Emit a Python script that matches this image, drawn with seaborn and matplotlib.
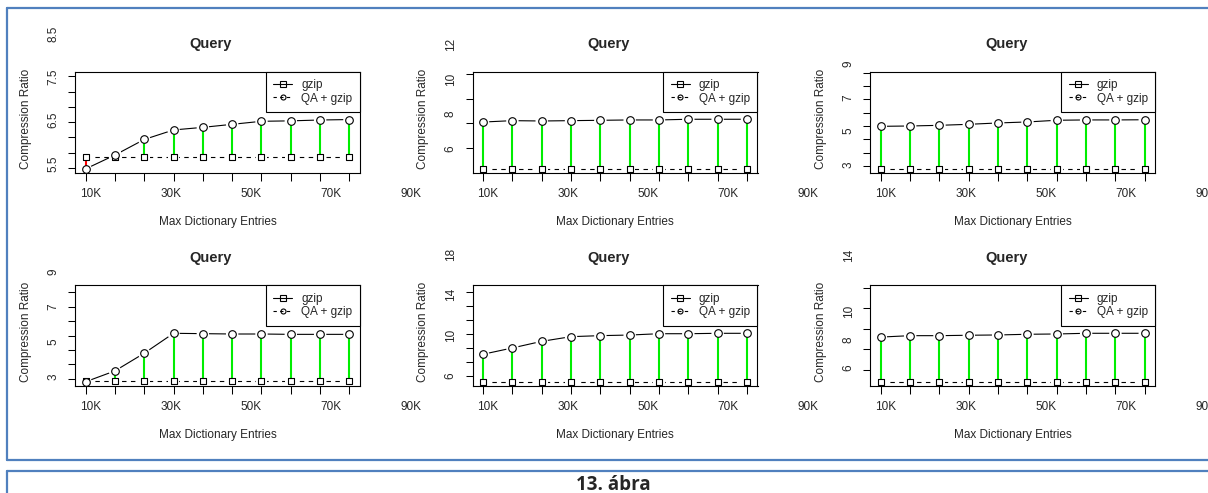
import matplotlib
matplotlib.use("Agg")
import numpy as np
import pandas as pd
import seaborn as sns
import matplotlib.pyplot as plt
from matplotlib.lines import Line2D

sns.set_style("ticks")
plt.rcParams['font.family'] = ['Liberation Sans', 'DejaVu Sans']

# ---------------- data ----------------
x_points = [1, 2, 3, 4, 5, 6, 7, 8, 9, 10]
x_tick_labels = ['10K', '30K', '50K', '70K', '90K']
x_label_pos = [1.17, 3.90, 6.63, 9.36, 12.09]

gzip_1 = [5.65, 5.65, 5.65, 5.65, 5.65, 5.65, 5.65, 5.65, 5.65, 5.65]
qa_1 = [5.37, 5.69, 6.05, 6.27, 6.33, 6.40, 6.47, 6.48, 6.50, 6.51]
gzip_2 = [4.83, 4.83, 4.83, 4.83, 4.83, 4.83, 4.83, 4.83, 4.83, 4.83]
qa_2 = [7.54, 7.62, 7.60, 7.62, 7.64, 7.66, 7.66, 7.70, 7.70, 7.70]
gzip_3 = [2.75, 2.75, 2.75, 2.75, 2.75, 2.75, 2.75, 2.75, 2.75, 2.75]
qa_3 = [5.28, 5.30, 5.34, 5.40, 5.48, 5.54, 5.64, 5.66, 5.66, 5.67]
gzip_4 = [2.75, 2.75, 2.75, 2.75, 2.75, 2.75, 2.75, 2.75, 2.75, 2.75]
qa_4 = [2.71, 3.33, 4.34, 5.48, 5.46, 5.44, 5.44, 5.42, 5.42, 5.42]
gzip_5 = [5.38, 5.38, 5.38, 5.38, 5.38, 5.38, 5.38, 5.38, 5.38, 5.38]
qa_5 = [8.14, 8.76, 9.41, 9.87, 9.97, 10.03, 10.16, 10.16, 10.20, 10.20]
gzip_6 = [4.93, 4.93, 4.93, 4.93, 4.93, 4.93, 4.93, 4.93, 4.93, 4.93]
qa_6 = [8.16, 8.26, 8.26, 8.29, 8.31, 8.36, 8.38, 8.43, 8.43, 8.43]

ylab_vals_1 = [5.5, 6.5, 7.5, 8.5]
ylab_txt_1 = ['5.5', '6.5', '7.5', '8.5']
ylab_vals_2 = [6, 8, 10, 12]
ylab_txt_2 = ['6', '8', '10', '12']
ylab_vals_3 = [3, 5, 7, 9]
ylab_txt_3 = ['3', '5', '7', '9']
ylab_vals_4 = [3, 5, 7, 9]
ylab_txt_4 = ['3', '5', '7', '9']
ylab_vals_5 = [6, 10, 14, 18]
ylab_txt_5 = ['6', '10', '14', '18']
ylab_vals_6 = [6, 8, 10, 14]
ylab_txt_6 = ['6', '8', '10', '14']

yticks_1 = [5.39, 5.745, 6.10, 6.454, 6.807, 7.154, 7.509]
yticks_2 = [6.061, 7.467, 8.885, 10.308]
yticks_3 = [2.942, 3.714, 4.51, 5.299, 6.089, 6.885, 7.675, 8.464]
yticks_4 = [2.869, 3.709, 4.526, 5.343, 6.183, 7.0, 7.857]
yticks_5 = [6.002, 7.349, 8.726, 10.132, 11.508, 12.914, 14.291]
yticks_6 = [5.807, 7.286, 8.736, 10.214, 11.686]

ylims = [(5.283, 7.615), (4.62, 10.441), (2.526, 8.524),
         (2.486, 8.24), (5.048, 14.95), (4.686, 11.879)]

title = "Query"
xlabel = "Max Dictionary Entries"
ylabel = "Compression Ratio"
legend_labels = ["gzip", "QA + gzip"]
caption = "13. ábra"

panels = [
    (gzip_1, qa_1, ylab_vals_1, ylab_txt_1, yticks_1),
    (gzip_2, qa_2, ylab_vals_2, ylab_txt_2, yticks_2),
    (gzip_3, qa_3, ylab_vals_3, ylab_txt_3, yticks_3),
    (gzip_4, qa_4, ylab_vals_4, ylab_txt_4, yticks_4),
    (gzip_5, qa_5, ylab_vals_5, ylab_txt_5, yticks_5),
    (gzip_6, qa_6, ylab_vals_6, ylab_txt_6, yticks_6),
]

# ---------------- layout ----------------
W, H = 1208, 493
fig = plt.figure(figsize=(W / 100, H / 100), dpi=100)
col_left = [75, 472.5, 870.3]
row_top = [71.7, 285]
row_h = [101, 100.7]
ax_w = 285
FS = 8.5

for i, (gz, qa, lv, lt, yt) in enumerate(panels):
    r, c = divmod(i, 3)
    lp, tp, hp = col_left[c], row_top[r], row_h[r]
    ax = fig.add_axes([lp / W, 1 - (tp + hp) / H, ax_w / W, hp / H])
    df = pd.DataFrame({"x": x_points, "gzip": gz, "qa": qa})

    sns.lineplot(data=df, x="x", y="qa", ax=ax, color="black", lw=0.8,
                 zorder=2, legend=False)
    sns.lineplot(data=df, x="x", y="gzip", ax=ax, color="black", lw=0.8,
                 zorder=2, legend=False)
    ax.lines[-1].set_linestyle((0, (4, 4)))

    # white halos for R type="b" gaps
    sns.scatterplot(data=df, x="x", y="gzip", ax=ax, marker="s", s=70,
                    color="white", edgecolor="none", linewidth=0, zorder=2.2,
                    legend=False)
    sns.scatterplot(data=df, x="x", y="qa", ax=ax, marker="o", s=80,
                    color="white", edgecolor="none", linewidth=0, zorder=2.2,
                    legend=False)

    seg_colors = ["#00EE00" if q > g else "#FF0000" for g, q in zip(gz, qa)]
    ax.vlines(df["x"], df["gzip"], df["qa"], colors=seg_colors, lw=1.5,
              zorder=2.3)

    sns.scatterplot(data=df, x="x", y="gzip", ax=ax, marker="s", s=24,
                    color="white", edgecolor="black", linewidth=0.8, zorder=3,
                    legend=False)
    sns.scatterplot(data=df, x="x", y="qa", ax=ax, marker="o", s=30,
                    color="white", edgecolor="black", linewidth=0.8, zorder=3.1,
                    legend=False)

    ax.set_xlim(0.64, 10.36)
    ax.set_ylim(*ylims[i])
    ax.set_xticks(x_points)
    ax.set_xticklabels([])
    ax.set_yticks(yt)
    ax.set_yticklabels([])
    ax.tick_params(axis="x", direction="out", length=6, width=0.75, colors="black")
    ax.tick_params(axis="y", direction="out", length=5, width=0.75, colors="black")
    ax.set_xlabel("")
    ax.set_ylabel("")
    for s in ax.spines.values():
        s.set_visible(True)
        s.set_color("black")
        s.set_linewidth(0.8)

    for v, t in zip(lv, lt):
        ax.text(-0.076, v, t, transform=ax.get_yaxis_transform(), rotation=90,
                ha="center", va="center", fontsize=FS, clip_on=False)
    for p, t in zip(x_label_pos, x_tick_labels):
        ax.text(p, -21.3 / hp, t, transform=ax.get_xaxis_transform(),
                ha="center", va="center", fontsize=FS, clip_on=False)

    ax.text(0.477, 1.27, title, transform=ax.transAxes, ha="center",
            va="center", fontsize=10.5, fontweight="bold", clip_on=False)
    ax.text(0.5, -0.489, xlabel, transform=ax.transAxes, ha="center",
            va="center", fontsize=FS, clip_on=False)
    ax.text(-0.172, 0.53, ylabel, transform=ax.transAxes, ha="center",
            va="center", rotation=90, fontsize=FS, clip_on=False)

    handles = [
        Line2D([], [], color="black", lw=0.8, ls="-", marker="s", ms=4.3,
               mfc="none", mec="black", mew=0.8),
        Line2D([], [], color="black", lw=0.8, ls=(0, (3, 3)), marker="o",
               ms=3.6, mfc="none", mec="black", mew=0.8),
    ]
    leg = ax.legend(handles, legend_labels, loc="upper right",
                    bbox_to_anchor=(1, 1), borderaxespad=0, fancybox=False,
                    framealpha=1, edgecolor="black", fontsize=FS,
                    handlelength=1.6, handletextpad=0.75, borderpad=0.65,
                    labelspacing=0.1)
    leg.get_frame().set_linewidth(0.8)
    leg.set_zorder(5)

# ---------------- document frame ----------------
blue = "#5080BE"


def fig_line(xs, ys):
    fig.add_artist(Line2D([x / W for x in xs], [1 - y / H for y in ys],
                          transform=fig.transFigure, color=blue, lw=1.6))


fig_line([6.5, 1208], [8.3, 8.3])
fig_line([7.3, 7.3], [8.3, 460.3])
fig_line([6.5, 1208], [460.3, 460.3])
fig_line([6.5, 1208], [471, 471])
fig_line([7.3, 7.3], [471, 493])

fig.text(613 / W, (493 - 489.5) / H, caption, ha="center", va="baseline",
         fontsize=13.5, fontweight="bold", family=["Open Sans", "DejaVu Sans"])

fig.savefig("out.png", dpi=100)
